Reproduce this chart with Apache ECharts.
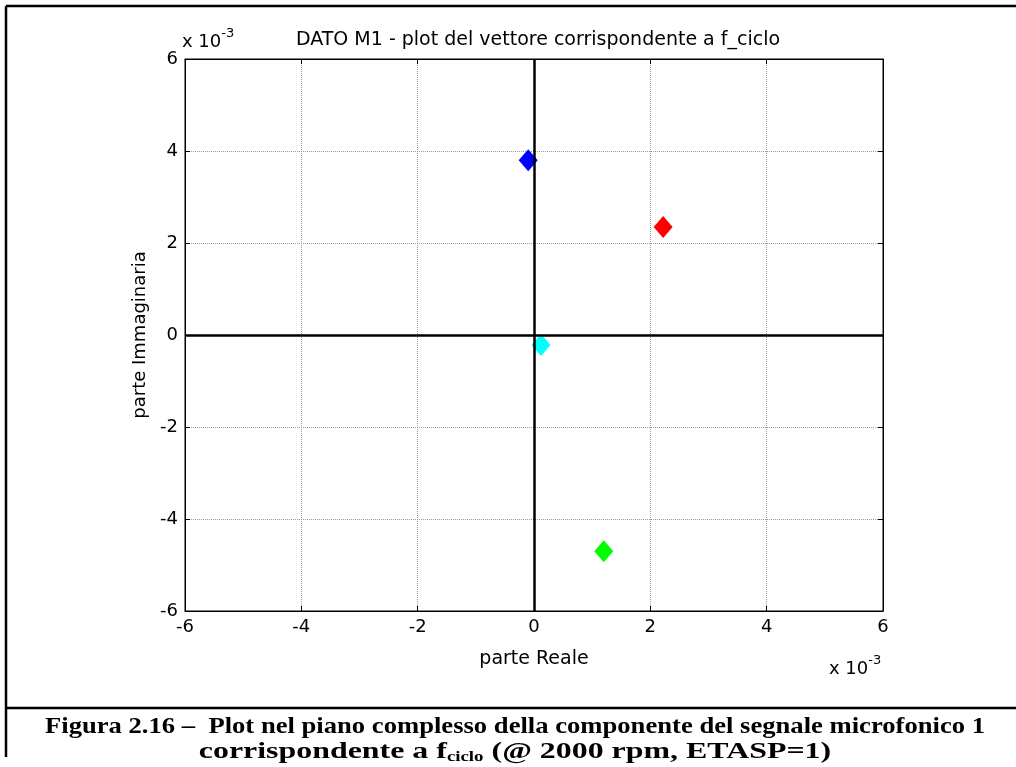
<!DOCTYPE html>
<html>
<head>
<meta charset="utf-8">
<script src="https://cdn.jsdelivr.net/npm/echarts@6/dist/echarts.min.js"></script>
<style>html,body{margin:0;padding:0;background:#fff}#c{width:1016px;height:767px}</style>
</head>
<body>
<div id="c"></div>
<script>
// values in units of 10^-3 (as shown by the axes)
const seriesNames = ['blu', 'rosso', 'ciano', 'verde'];
const seriesColors = ['#0000ff', '#ff0000', '#00ffff', '#00ff00'];
const realParts = [-0.1, 2.22, 0.12, 1.2];
const imagParts = [3.8, 2.35, -0.22, -4.7];
const tickValues = [-6, -4, -2, 0, 2, 4, 6];

const chart = echarts.init(document.getElementById('c'), null, {renderer: 'canvas'});
const FONT = 'DejaVu Sans, Verdana, sans-serif';
const SERIF = 'Liberation Serif, Times New Roman, serif';
const axMin = tickValues[0], axMax = tickValues[tickValues.length - 1], axInt = tickValues[1] - tickValues[0];

function mkAxis(pos, show) {
  return {
    type: 'value', position: pos, min: axMin, max: axMax, interval: axInt,
    axisLine: {show: true, onZero: false, lineStyle: {color: '#000', width: 1}},
    axisTick: {show: true, inside: true, length: 5, lineStyle: {color: '#000'}},
    axisLabel: {show: show, color: '#000', fontSize: 18, fontFamily: FONT, margin: 7},
    splitLine: {show: show, lineStyle: {color: '#9a9a9a', type: [1, 1], width: 1}}
  };
}
const xMain = mkAxis('bottom', true);
xMain.name = 'parte Reale'; xMain.nameLocation = 'middle'; xMain.nameGap = 39;
xMain.nameTextStyle = {color: '#000', fontSize: 19, fontFamily: FONT};
const yMain = mkAxis('left', true);
yMain.name = 'parte Immaginaria'; yMain.nameLocation = 'middle'; yMain.nameGap = 34;
yMain.nameTextStyle = {color: '#000', fontSize: 18, fontFamily: FONT};

const series = [{
  type: 'scatter', data: [], z: 1, silent: true,
  markLine: {
    silent: true, symbol: 'none', label: {show: false}, animation: false,
    lineStyle: {color: '#000', width: 2.5, type: 'solid'},
    data: [{xAxis: 0}, {yAxis: 0}]
  }
}];
seriesNames.forEach((n, i) => {
  series.push({
    name: n, type: 'scatter', z: 3, symbol: 'diamond', symbolSize: [19, 22],
    itemStyle: {color: seriesColors[i], opacity: 1},
    data: [[realParts[i], imagParts[i]]]
  });
});

const expRich = {
  a: {fontSize: 18, fontFamily: FONT, fill: '#000', padding: [9, 0, 0, 0]},
  s: {fontSize: 13, fontFamily: FONT, fill: '#000', padding: [0, 0, 9, 0]}
};

chart.setOption({
  animation: false,
  backgroundColor: '#fff',
  title: {
    text: 'DATO M1 - plot del vettore corrispondente a f_ciclo',
    left: 533, textAlign: 'center', top: 26,
    textStyle: {color: '#000', fontSize: 19, fontWeight: 'normal', fontFamily: FONT}
  },
  grid: {left: 185, right: 133, top: 59, bottom: 156, show: true, borderColor: '#000', borderWidth: 1},
  xAxis: [xMain, mkAxis('top', false)],
  yAxis: [yMain, mkAxis('right', false)],
  series: series,
  graphic: [
    {type: 'line', shape: {x1: 6, y1: 6, x2: 1016, y2: 6}, style: {stroke: '#000', lineWidth: 2.5}},
    {type: 'line', shape: {x1: 6, y1: 6, x2: 6, y2: 757}, style: {stroke: '#000', lineWidth: 2.5}},
    {type: 'line', shape: {x1: 6, y1: 708, x2: 1016, y2: 708}, style: {stroke: '#000', lineWidth: 2.5}},
    {type: 'text', left: 182, top: 27, style: {text: '{a|x 10}{s|-3}', rich: expRich}},
    {type: 'text', left: 829, top: 654, style: {text: '{a|x 10}{s|-3}', rich: expRich}},
    {type: 'text', x: 515, y: 715, scaleY: 1.05, scaleX: 1.21, style: {
      text: 'Figura 2.16 \u2013  Plot nel piano complesso della componente del segnale microfonico 1',
      textAlign: 'center', fontSize: 22, fontWeight: 'bold', fontFamily: SERIF, fill: '#000'
    }},
    {type: 'text', x: 515, y: 740, scaleY: 1.05, scaleX: 1.45, style: {
      text: '{b|corrispondente a f}{s|ciclo}{b| (@ 2000 rpm, ETASP=1)}',
      textAlign: 'center',
      rich: {
        b: {fontSize: 22, fontWeight: 'bold', fontFamily: SERIF, fill: '#000', padding: [0, 0, 5, 0]},
        s: {fontSize: 13, fontWeight: 'bold', fontFamily: SERIF, fill: '#000', padding: [6, 0, 0, 0]}
      }
    }}
  ]
});
</script>
</body>
</html>
